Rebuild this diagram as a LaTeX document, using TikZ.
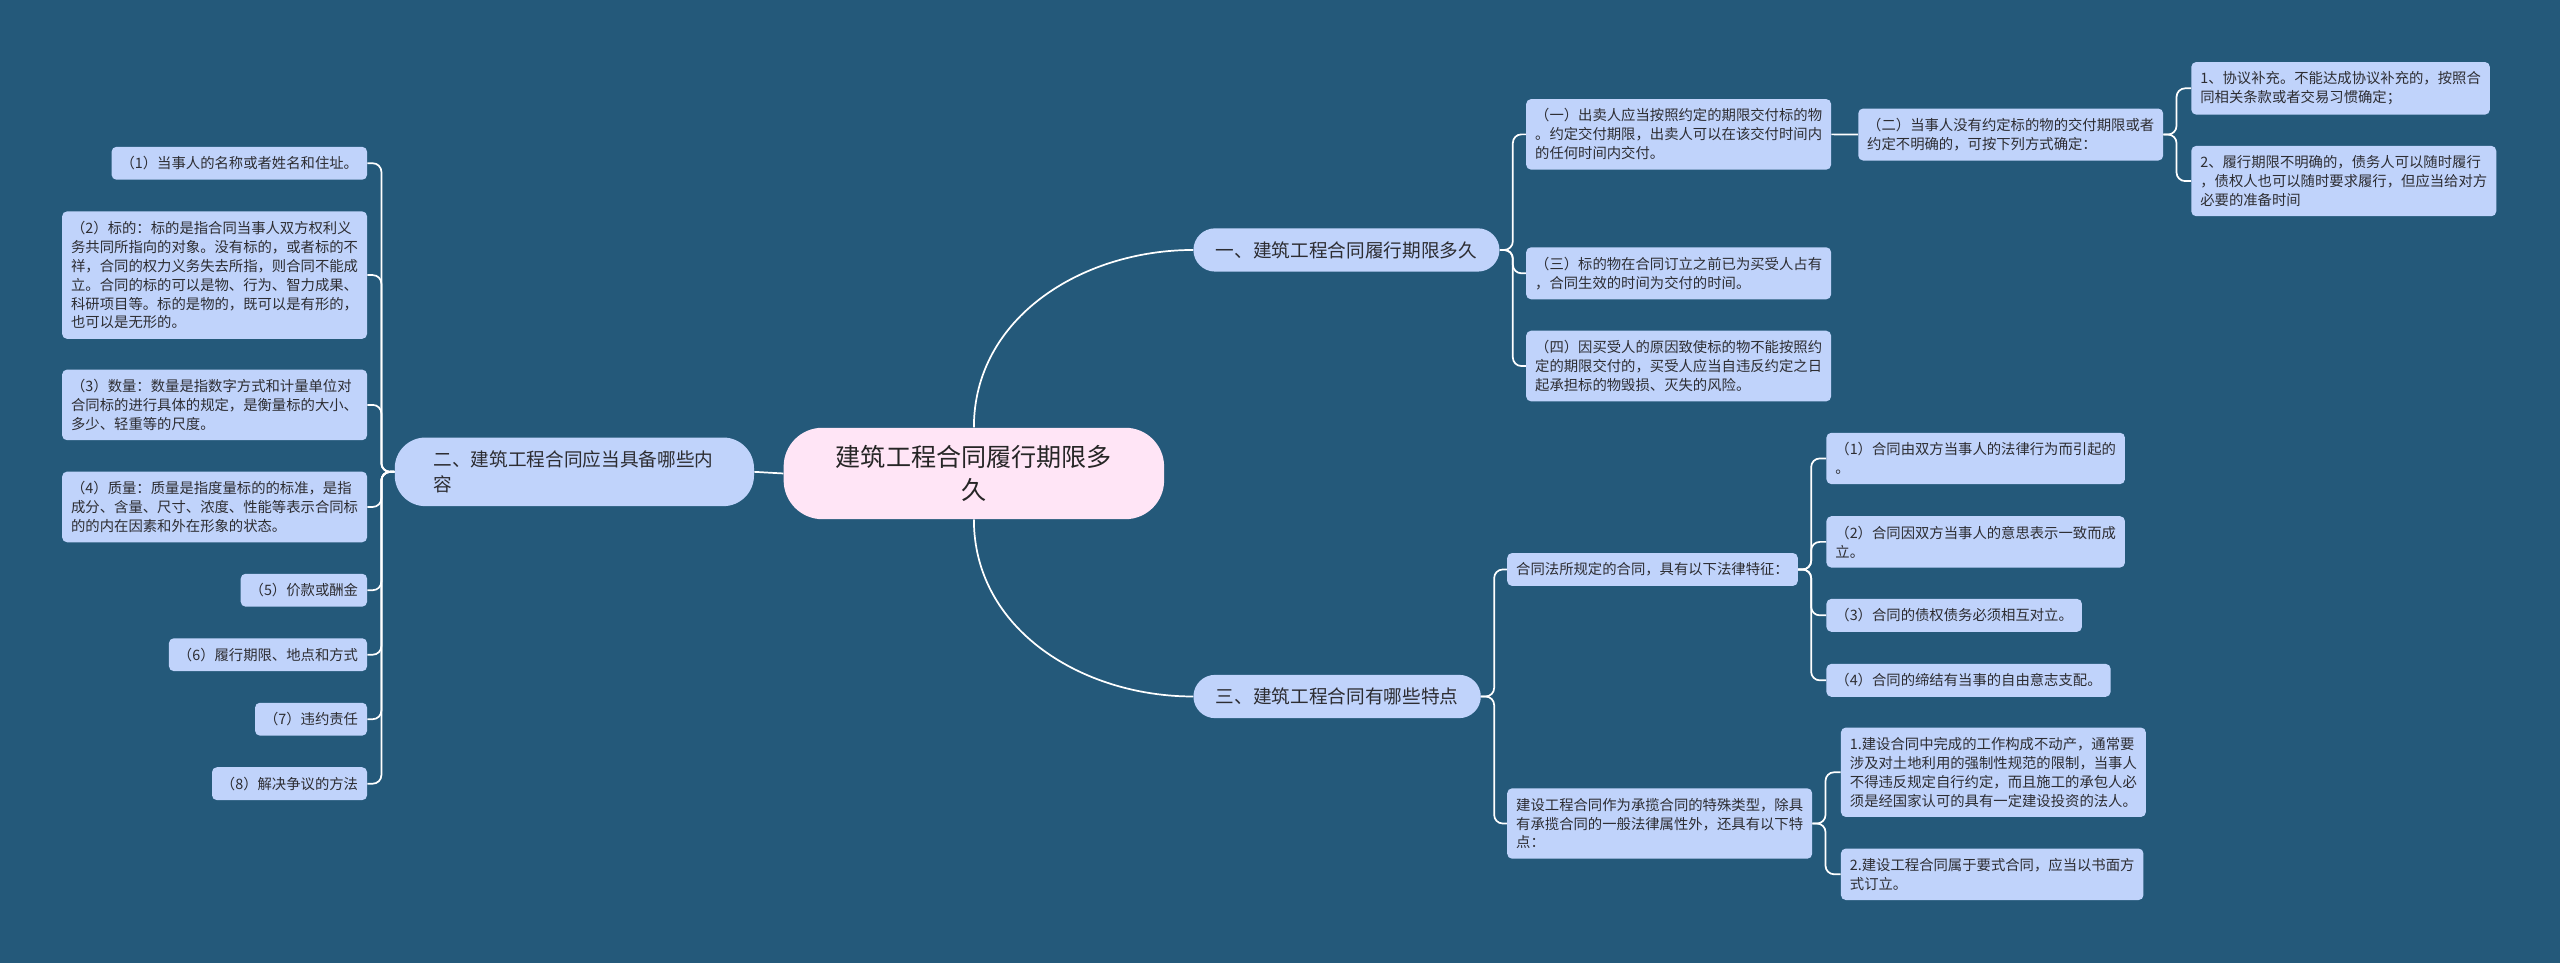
\documentclass[tikz,border=0pt]{standalone}
\usepackage{fontspec}
\setmainfont{Noto Sans CJK SC}
\usetikzlibrary{positioning}
\definecolor{bgblue}{RGB}{36,89,122}
\definecolor{leafblue}{RGB}{192,211,251}
\definecolor{rootpink}{RGB}{255,229,246}
\definecolor{inkgray}{RGB}{45,45,50}

\begin{document}
\begin{tikzpicture}[
    x=0.04cm, y=-0.04cm,
    leaf/.style={fill=leafblue, rounded corners=3.4pt, align=left, inner xsep=0.22cm, inner ysep=6.7pt, text=inkgray, font=\fontsize{10}{13.2}\selectfont},
    branch/.style={fill=leafblue, rounded corners=0.53cm, minimum height=1.06cm, inner xsep=0.55cm, text=inkgray, font=\fontsize{13}{17.4}\selectfont},
    root/.style={fill=rootpink, rounded corners=0.95cm, minimum width=9.32cm, minimum height=2.24cm, align=center, text=black!85, font=\fontsize{17.5}{23}\selectfont},
    link/.style={draw=white, line width=1.2pt},
    elbow/.style={link, rounded corners=6pt}
]
\fill[bgblue] (0,0) rectangle (1568,590);
\useasboundingbox (0,0) rectangle (1568,590);

\node[root] (cen) at (596.5,290) {建筑工程合同履行期限多\\久};

\node[branch, anchor=west] (b1) at (730.8,153.1) {一、建筑工程合同履行期限多久};
\node[branch, anchor=west] (b3) at (730.8,426.6) {三、建筑工程合同有哪些特点};
\node[branch, anchor=east, align=left, minimum width=8.8cm, minimum height=1.68cm, rounded corners=0.75cm, text width=6.9cm, inner xsep=0.95cm] (b2) at (462,289) {二、建筑工程合同应当具备哪些内\\容};

\node[leaf, anchor=west] (a1) at (934.6,82.3) {（一）出卖人应当按照约定的期限交付标的物\\。约定交付期限，出卖人可以在该交付时间内\\的任何时间内交付。};
\node[leaf, anchor=west] (a2) at (1138,82.4) {（二）当事人没有约定标的物的交付期限或者\\约定不明确的，可按下列方式确定：};
\node[leaf, anchor=west] (a21) at (1342,54.1) {1、协议补充。不能达成协议补充的，按照合\\同相关条款或者交易习惯确定；};
\node[leaf, anchor=west] (a22) at (1342,110.9) {2、履行期限不明确的，债务人可以随时履行\\，债权人也可以随时要求履行，但应当给对方\\必要的准备时间};
\node[leaf, anchor=west] (a3) at (934.6,167.4) {（三）标的物在合同订立之前已为买受人占有\\，合同生效的时间为交付的时间。};
\node[leaf, anchor=west] (a4) at (934.6,224.2) {（四）因买受人的原因致使标的物不能按照约\\定的期限交付的，买受人应当自违反约定之日\\起承担标的物毁损、灭失的风险。};

\node[leaf, anchor=west] (c1) at (923,348.8) {合同法所规定的合同，具有以下法律特征：};
\node[leaf, anchor=west] (c11) at (1118.5,280.8) {（1）合同由双方当事人的法律行为而引起的\\。};
\node[leaf, anchor=west] (c12) at (1118.5,331.9) {（2）合同因双方当事人的意思表示一致而成\\立。};
\node[leaf, anchor=west] (c13) at (1118.5,376.9) {（3）合同的债权债务必须相互对立。};
\node[leaf, anchor=west] (c14) at (1118.5,416.7) {（4）合同的缔结有当事的自由意志支配。};
\node[leaf, anchor=west] (c2) at (923,504.4) {建设工程合同作为承揽合同的特殊类型，除具\\有承揽合同的一般法律属性外，还具有以下特\\点：};
\node[leaf, anchor=west] (c21) at (1127.4,473) {1.建设合同中完成的工作构成不动产，通常要\\涉及对土地利用的强制性规范的限制，当事人\\不得违反规定自行约定，而且施工的承包人必\\须是经国家认可的具有一定建设投资的法人。};
\node[leaf, anchor=west] (c22) at (1127.4,535.5) {2.建设工程合同属于要式合同，应当以书面方\\式订立。};

\node[leaf, anchor=east] (l1) at (225,100) {（1）当事人的名称或者姓名和住址。};
\node[leaf, anchor=east] (l2) at (225,168.5) {（2）标的：标的是指合同当事人双方权利义\\务共同所指向的对象。没有标的，或者标的不\\祥，合同的权力义务失去所指，则合同不能成\\立。合同的标的可以是物、行为、智力成果、\\科研项目等。标的是物的，既可以是有形的，\\也可以是无形的。};
\node[leaf, anchor=east] (l3) at (225,248) {（3）数量：数量是指数字方式和计量单位对\\合同标的进行具体的规定，是衡量标的大小、\\多少、轻重等的尺度。};
\node[leaf, anchor=east] (l4) at (225,310.5) {（4）质量：质量是指度量标的的标准，是指\\成分、含量、尺寸、浓度、性能等表示合同标\\的的内在因素和外在形象的状态。};
\node[leaf, anchor=east] (l5) at (225,361.5) {（5）价款或酬金};
\node[leaf, anchor=east] (l6) at (225,401) {（6）履行期限、地点和方式};
\node[leaf, anchor=east] (l7) at (225,440.5) {（7）违约责任};
\node[leaf, anchor=east] (l8) at (225,480) {（8）解决争议的方法};

\draw[link] (cen.north) to[out=90, in=180] (b1.west);
\draw[link] (cen.south) to[out=-90, in=180] (b3.west);
\draw[link] (cen.west) -- (b2.east);

\draw[elbow] (b1.east) -- ++(8,0) |- (a1.west);
\draw[elbow] (b1.east) -- ++(8,0) |- (a3.west);
\draw[elbow] (b1.east) -- ++(8,0) |- (a4.west);
\draw[link] (a1.east) -- (a2.west);
\draw[elbow] (a2.east) -- ++(8,0) |- (a21.west);
\draw[elbow] (a2.east) -- ++(8,0) |- (a22.west);

\draw[elbow] (b3.east) -- ++(8,0) |- (c1.west);
\draw[elbow] (b3.east) -- ++(8,0) |- (c2.west);
\draw[elbow] (c1.east) -- ++(8,0) |- (c11.west);
\draw[elbow] (c1.east) -- ++(8,0) |- (c12.west);
\draw[elbow] (c1.east) -- ++(8,0) |- (c13.west);
\draw[elbow] (c1.east) -- ++(8,0) |- (c14.west);
\draw[elbow] (c2.east) -- ++(8,0) |- (c21.west);
\draw[elbow] (c2.east) -- ++(8,0) |- (c22.west);

\draw[elbow] (b2.west) -- ++(-8,0) |- (l1.east);
\draw[elbow] (b2.west) -- ++(-8,0) |- (l2.east);
\draw[elbow] (b2.west) -- ++(-8,0) |- (l3.east);
\draw[elbow] (b2.west) -- ++(-8,0) |- (l4.east);
\draw[elbow] (b2.west) -- ++(-8,0) |- (l5.east);
\draw[elbow] (b2.west) -- ++(-8,0) |- (l6.east);
\draw[elbow] (b2.west) -- ++(-8,0) |- (l7.east);
\draw[elbow] (b2.west) -- ++(-8,0) |- (l8.east);
\end{tikzpicture}
\end{document}
